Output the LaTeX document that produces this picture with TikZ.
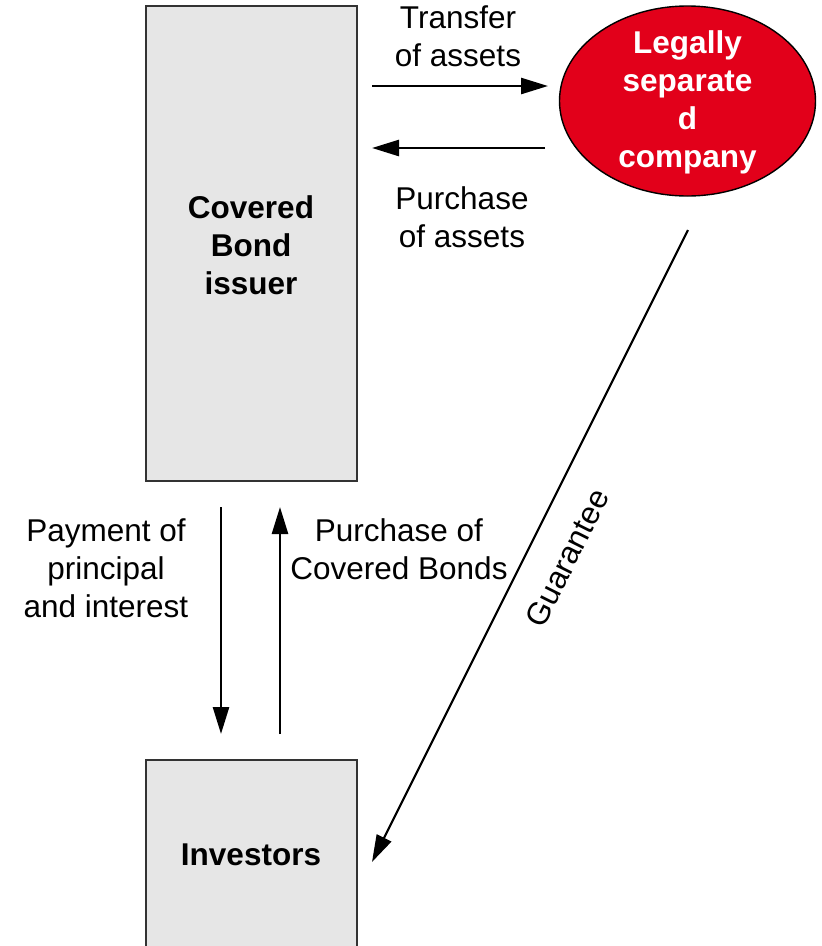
\documentclass[tikz,border=0pt]{standalone}
\usepackage{fontspec}
\setmainfont{Liberation Sans}
\usetikzlibrary{arrows.meta,shapes.geometric}
\definecolor{boxgray}{HTML}{E6E6E6}
\definecolor{corpred}{HTML}{E2001A}
\tikzset{
  entity/.style={draw=black!80, line width=1.4pt, fill=boxgray},
  bigtext/.style={font=\fontsize{31.5}{38}\selectfont, align=center, inner sep=0pt},
  flow/.style={line width=2.6pt, -{Triangle[length=27pt,width=16pt]}}
}
\begin{document}
\begin{tikzpicture}[x=1pt,y=-1pt]
\useasboundingbox (0,0) rectangle (822,946);
\clip (0,0) rectangle (822,946);
% boxes
\draw[entity] (146,6) rectangle (357,481);
\node[bigtext, font=\fontsize{31.5}{38}\selectfont\bfseries] (issuer) at (251,245) {Covered\\Bond\\issuer};
\draw[entity] (146,760) rectangle (357,980);
\node[bigtext, font=\fontsize{31.5}{38}\selectfont\bfseries] (investors) at (251,855) {Investors};
% ellipse
\node[ellipse, draw=black, line width=1.4pt, fill=corpred, minimum width=256pt, minimum height=190pt, inner sep=0pt] (spv) at (687.5,101) {};
\node[bigtext, font=\fontsize{31.5}{38}\selectfont\bfseries, text=white] (spvtext) at (687.5,102) {Legally\\separate\\d\\company};
% coordinates
\coordinate (t1) at (372,86);
\coordinate (t2) at (548,86);
\coordinate (p1) at (545,148);
\coordinate (p2) at (372,148);
\coordinate (d1) at (221,507);
\coordinate (d2) at (221,734);
\coordinate (u1) at (280,734);
\coordinate (u2) at (280,507);
\coordinate (g1) at (688,230);
\coordinate (g2) at (372,862);
% arrows
\draw[flow] (t1) -- (t2);
\draw[flow] (p1) -- (p2);
\draw[flow] (d1) -- (d2);
\draw[flow] (u1) -- (u2);
\draw[flow, line width=2.2pt] (g1) -- (g2);
% labels
\node[bigtext] (ltransfer) at (458,36) {Transfer\\of assets};
\node[bigtext] (lpurchase) at (462,217) {Purchase\\of assets};
\node[bigtext] (lpayment) at (106,568) {Payment of\\principal\\and interest};
\node[bigtext] (lbonds) at (399,549) {Purchase of\\Covered Bonds};
\node[bigtext, rotate=63.4] (lguar) at (567,558) {Guarantee};
\end{tikzpicture}
\end{document}
